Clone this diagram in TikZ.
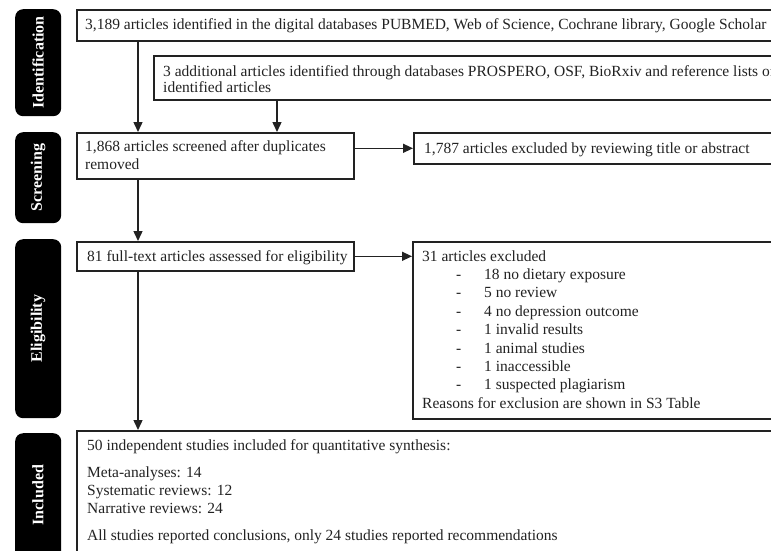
\documentclass[tikz,border=0pt]{standalone}
\usepackage{fontspec}
\setmainfont{Liberation Serif}
\usetikzlibrary{arrows.meta}
\definecolor{ink}{HTML}{222222}
\tikzset{
  box/.style={draw=ink, line width=1.6pt, rectangle, inner sep=0pt, anchor=north west},
  tag/.style={fill=black, rounded corners=8pt, inner sep=0pt, anchor=north west},
  tagtext/.style={text=white, font=\fontsize{16}{18}\selectfont\bfseries, rotate=90, inner sep=0pt},
  txt/.style={text=ink, font=\fontsize{15.5}{17}\selectfont, anchor=base west, inner sep=0pt},
  conn/.style={draw=ink, line width=1.4pt, -{Triangle[length=10pt,width=9pt]}},
}
\begin{document}
\begin{tikzpicture}[x=1pt,y=-1pt]
\useasboundingbox (0,0) rectangle (771,550);
\clip (0,0) rectangle (771,550);
% side tags
\node[tag, minimum width=46pt, minimum height=107pt] (tagI) at (15,9) {};
\node[tag, minimum width=46pt, minimum height=91pt] (tagS) at (15,132) {};
\node[tag, minimum width=46pt, minimum height=179pt] (tagE) at (15,239) {};
\node[tag, minimum width=46pt, minimum height=130pt] (tagN) at (15,433) {};
\node[tagtext] (lI) at (38,62.5) {Identification};
\node[tagtext] (lS) at (38,177.5) {Screening};
\node[tagtext] (lE) at (38,328.5) {Eligibility};
\node[tagtext] (lN) at (38,495) {Included};
% boxes
\node[box, minimum width=720pt, minimum height=31pt] (b1) at (76,9) {};
\node[box, minimum width=640pt, minimum height=44pt] (b2) at (153,55) {};
\node[box, minimum width=277pt, minimum height=46pt] (b3) at (76,132) {};
\node[box, minimum width=380pt, minimum height=31pt] (b4) at (413,132) {};
\node[box, minimum width=277pt, minimum height=29pt] (b5) at (76,241) {};
\node[box, minimum width=380pt, minimum height=177pt] (b6) at (412,241) {};
\node[box, minimum width=720pt, minimum height=140pt] (b7) at (76,430) {};
% texts
\node[txt] (t1) at (85,29) {3,189 articles identified in the digital databases PUBMED, Web of Science, Cochrane library, Google Scholar};
\node[txt] (t2a) at (163,76) {3 additional articles identified through databases PROSPERO, OSF, BioRxiv and reference lists of};
\node[txt] (t2b) at (163,92) {identified articles};
\node[txt] (t3a) at (85,151) {1,868 articles screened after duplicates};
\node[txt] (t3b) at (85,169) {removed};
\node[txt] (t4) at (424,153) {1,787 articles excluded by reviewing title or abstract};
\node[txt] (t5) at (87,261) {81 full-text articles assessed for eligibility};
\node[txt] (t6) at (422,261) {31 articles excluded};
\foreach \i/\s in {1/18 no dietary exposure,2/5 no review,3/4 no depression outcome,4/1 invalid results,5/1 animal studies,6/1 inaccessible,7/1 suspected plagiarism}{
  \node[txt] (d\i) at (456,261+18.4*\i) {-};
  \node[txt] (r\i) at (484,261+18.4*\i) {\s};
}
\node[txt] (t6z) at (422,408) {Reasons for exclusion are shown in S3 Table};
\node[txt] (t7a) at (87,450) {50 independent studies included for quantitative synthesis:};
\node[txt] (t7b) at (87,477) {Meta-analyses: 14};
\node[txt] (t7c) at (87,495) {Systematic reviews: 12};
\node[txt] (t7d) at (87,513) {Narrative reviews: 24};
\node[txt] (t7e) at (87,540) {All studies reported conclusions, only 24 studies reported recommendations};
% connectors
\coordinate (xa) at (138,0);
\coordinate (xb) at (277,0);
\draw[conn] (b1.south -| xa) -- (b3.north -| xa);
\draw[conn] (b2.south -| xb) -- (b3.north -| xb);
\draw[conn] (b3.south -| xa) -- (b5.north -| xa);
\draw[conn] (b5.south -| xa) -- (b7.north -| xa);
\draw[conn] (b3.east |- b4.west) -- (b4.west);
\draw[conn] (b5.east) -- (b6.west |- b5.east);
\end{tikzpicture}
\end{document}
